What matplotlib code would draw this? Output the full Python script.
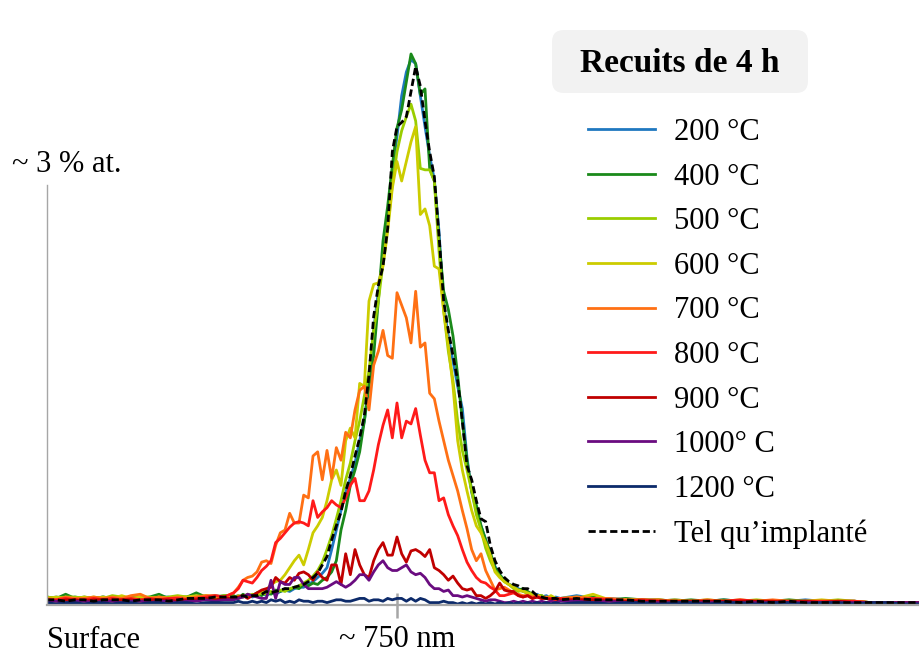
import numpy as np
import matplotlib
matplotlib.use("Agg")
import matplotlib.pyplot as plt
from matplotlib.patches import FancyBboxPatch

plt.rcParams['font.family'] = ['Liberation Serif', 'DejaVu Serif']

# depth sampling (nm)
depth = np.concatenate([np.arange(0, 381, 20), np.arange(400, 1101, 10), np.arange(1135, 1871, 35)])

# concentration (% at.)
c200 = [0.04,0.05,0.04,0.05,0.04,0.04,0.05,0.04,0.05,0.04,0.05,0.04,0.05,0.05,0.04,0.05,0.06,0.05,0.06,0.05,
        0.05,0.06,0.05,0.07,0.05,0.06,0.08,0.06,0.08,0.07,0.09,0.10,0.09,0.11,0.12,0.12,0.14,0.16,0.19,0.22,
        0.26,0.39,0.53,0.67,0.80,0.90,1.01,1.17,1.31,1.60,
        1.96,2.24,2.49,2.78,3.10,3.35,3.64,3.81,3.90,3.87,
        3.64,3.42,3.21,3.04,2.67,2.14,1.92,1.74,1.56,1.40,
        1.05,0.80,0.67,0.56,0.46,0.35,0.27,0.21,0.17,0.14,
        0.13,0.11,0.09,0.08,0.06,0.07,0.05,0.06,0.04,0.05,0.04,
        0.06,0.04,0.04,0.03,0.03,0.02,0.03,0.02,0.02,0.03,0.02,0.02,0.02,0.02,0.03,0.02,0.02,0.02,0.01,0.01,0.01,0.01]
c400 = [0.05,0.04,0.07,0.04,0.05,0.04,0.05,0.04,0.04,0.05,0.04,0.05,0.07,0.04,0.05,0.05,0.08,0.05,0.05,0.06,
        0.06,0.04,0.07,0.05,0.06,0.08,0.06,0.09,0.07,0.10,0.09,0.11,0.10,0.12,0.11,0.14,0.13,0.15,0.14,0.17,
        0.19,0.23,0.31,0.53,0.67,0.85,0.96,1.09,1.31,1.56,
        1.78,2.17,2.60,2.85,3.14,3.41,3.54,3.74,3.94,3.87,
        3.65,3.69,3.12,3.03,2.60,2.24,2.11,1.92,1.64,1.31,
        1.03,0.81,0.71,0.56,0.46,0.37,0.26,0.21,0.17,0.14,
        0.12,0.10,0.11,0.09,0.07,0.06,0.06,0.04,0.05,0.04,0.04,
        0.04,0.05,0.03,0.04,0.03,0.03,0.02,0.03,0.02,0.03,0.02,0.02,0.02,0.03,0.02,0.02,0.02,0.02,0.01,0.01,0.01,0.01]
c500 = [0.05,0.04,0.05,0.05,0.04,0.05,0.04,0.06,0.05,0.04,0.05,0.05,0.04,0.05,0.06,0.05,0.05,0.06,0.05,0.06,
        0.05,0.04,0.06,0.05,0.07,0.06,0.08,0.07,0.09,0.08,0.10,0.09,0.11,0.12,0.13,0.15,0.17,0.20,0.24,0.30,
        0.39,0.49,0.61,0.74,0.89,1.01,1.17,1.31,1.49,1.67,
        1.96,2.17,2.44,2.71,3.00,3.24,3.39,3.49,3.58,3.46,
        3.12,3.11,3.11,3.03,2.53,2.10,1.81,1.60,1.31,1.10,
        0.96,0.81,0.64,0.53,0.40,0.31,0.24,0.20,0.16,0.14,
        0.11,0.09,0.10,0.07,0.08,0.06,0.06,0.04,0.05,0.04,0.04,
        0.05,0.04,0.03,0.03,0.02,0.03,0.02,0.02,0.03,0.02,0.02,0.03,0.02,0.02,0.02,0.02,0.03,0.02,0.01,0.01,0.01,0.01]
c600 = [0.04,0.05,0.04,0.04,0.05,0.04,0.05,0.04,0.06,0.04,0.05,0.04,0.05,0.04,0.05,0.05,0.06,0.05,0.04,0.05,
        0.04,0.06,0.05,0.07,0.06,0.07,0.09,0.10,0.14,0.16,0.17,0.21,0.26,0.31,0.35,0.28,0.39,0.51,0.56,0.62,
        0.74,0.89,0.96,0.85,1.17,1.26,1.19,1.58,1.56,2.17,
        2.29,2.30,2.42,2.67,2.98,3.17,3.03,3.17,3.31,3.42,
        2.79,2.83,2.71,2.42,2.40,2.10,1.85,1.56,1.17,0.96,
        0.81,0.67,0.56,0.51,0.44,0.35,0.23,0.19,0.16,0.14,
        0.12,0.10,0.09,0.08,0.06,0.06,0.05,0.04,0.06,0.04,0.04,
        0.04,0.07,0.03,0.03,0.03,0.02,0.03,0.02,0.02,0.02,0.03,0.02,0.02,0.02,0.02,0.03,0.02,0.02,0.01,0.01,0.01,0.01]
c700 = [0.04,0.03,0.05,0.04,0.04,0.05,0.04,0.05,0.04,0.06,0.07,0.04,0.05,0.04,0.05,0.04,0.05,0.06,0.06,0.05,
        0.08,0.12,0.17,0.19,0.20,0.23,0.30,0.31,0.29,0.42,0.51,0.53,0.65,0.58,0.58,0.78,0.76,1.06,1.09,0.89,
        1.10,0.90,1.12,1.03,1.23,1.19,1.39,1.53,1.56,1.39,
        1.71,1.81,1.96,1.78,1.76,2.23,2.14,2.05,1.87,2.24,
        1.84,1.87,1.51,1.47,1.31,1.17,1.03,0.92,0.81,0.67,
        0.54,0.39,0.31,0.36,0.24,0.17,0.10,0.11,0.12,0.10,
        0.08,0.07,0.06,0.06,0.05,0.06,0.04,0.05,0.04,0.04,0.04,
        0.05,0.04,0.04,0.03,0.03,0.03,0.02,0.02,0.03,0.02,0.02,0.02,0.03,0.02,0.02,0.02,0.02,0.02,0.01,0.01,0.01,0.01]
c800 = [0.03,0.03,0.04,0.03,0.03,0.04,0.03,0.04,0.03,0.04,0.03,0.04,0.03,0.04,0.04,0.03,0.04,0.05,0.06,0.05,
        0.08,0.11,0.17,0.16,0.15,0.19,0.24,0.27,0.31,0.44,0.47,0.51,0.55,0.58,0.59,0.58,0.56,0.74,0.62,0.66,
        0.69,0.74,0.71,0.69,0.76,0.85,0.90,0.74,0.74,0.81,
        0.96,1.14,1.28,1.39,1.19,1.44,1.19,1.31,1.29,1.40,
        1.21,1.03,0.94,0.94,0.74,0.76,0.64,0.56,0.49,0.39,
        0.30,0.24,0.19,0.16,0.15,0.12,0.10,0.06,0.06,0.07,
        0.08,0.06,0.05,0.06,0.04,0.05,0.04,0.04,0.04,0.03,0.04,
        0.03,0.04,0.03,0.02,0.03,0.02,0.02,0.02,0.02,0.02,0.03,0.02,0.02,0.02,0.02,0.02,0.02,0.02,0.01,0.01,0.01,0.01]
c900 = [0.03,0.02,0.03,0.03,0.02,0.03,0.03,0.02,0.03,0.03,0.02,0.03,0.03,0.03,0.02,0.03,0.03,0.04,0.03,0.04,
        0.04,0.05,0.06,0.04,0.06,0.08,0.10,0.11,0.12,0.19,0.16,0.15,0.19,0.17,0.22,0.23,0.21,0.17,0.23,0.19,
        0.17,0.28,0.28,0.14,0.36,0.21,0.39,0.28,0.21,0.19,
        0.31,0.39,0.44,0.35,0.35,0.48,0.36,0.30,0.38,0.39,
        0.37,0.34,0.39,0.26,0.24,0.21,0.17,0.20,0.15,0.11,
        0.10,0.11,0.06,0.06,0.04,0.06,0.09,0.15,0.10,0.09,
        0.09,0.06,0.05,0.06,0.04,0.05,0.04,0.04,0.03,0.04,0.03,
        0.03,0.03,0.02,0.02,0.02,0.02,0.02,0.02,0.02,0.02,0.02,0.02,0.02,0.01,0.02,0.01,0.02,0.01,0.01,0.01,0.01,0.01]
c1000 = [0.02,0.02,0.01,0.02,0.02,0.01,0.02,0.02,0.01,0.02,0.02,0.01,0.02,0.02,0.01,0.02,0.02,0.03,0.02,0.03,
         0.03,0.04,0.05,0.07,0.06,0.05,0.04,0.04,0.17,0.04,0.16,0.14,0.14,0.19,0.19,0.14,0.11,0.11,0.11,0.11,
         0.12,0.14,0.16,0.14,0.12,0.14,0.17,0.21,0.21,0.17,
         0.23,0.28,0.31,0.26,0.24,0.24,0.26,0.28,0.23,0.21,
         0.22,0.19,0.14,0.11,0.11,0.09,0.10,0.06,0.06,0.05,
         0.06,0.05,0.04,0.03,0.02,0.03,0.03,0.02,0.01,0.01,
         0.02,0.01,0.02,0.01,0.02,0.01,0.02,0.01,0.02,0.01,0.02,
         0.02,0.01,0.02,0.01,0.01,0.01,0.01,0.01,0.01,0.01,0.01,0.01,0.01,0.01,0.01,0.01,0.01,0.01,0.01,0.01,0.01,0.01]
c1200 = [0.01,0.00,0.01,0.01,0.00,0.01,0.01,0.00,0.01,0.01,0.00,0.01,0.01,0.00,0.01,0.01,0.00,0.01,0.01,0.01,
         0.01,0.02,0.01,0.01,0.02,0.01,0.02,0.01,0.03,0.02,0.03,0.01,0.02,0.01,0.03,0.02,0.02,0.01,0.02,0.02,
         0.01,0.02,0.03,0.03,0.02,0.02,0.03,0.04,0.04,0.02,
         0.03,0.03,0.02,0.04,0.03,0.04,0.04,0.02,0.04,0.02,
         0.04,0.03,0.01,0.01,0.01,0.02,0.01,0.01,0.00,0.01,
         0.00,0.01,0.00,0.01,0.00,0.01,0.00,0.01,0.00,0.01,
         0.00,0.01,0.00,0.01,0.00,0.01,0.00,0.01,0.00,0.01,0.00,
         0.01,0.01,0.00,0.01,0.01,0.00,0.01,0.01,0.00,0.01,0.01,0.00,0.01,0.01,0.00,0.01,0.01,0.00,0.01,0.01,0.00,0.00]
c_ref = [0.03,0.03,0.02,0.03,0.03,0.02,0.03,0.03,0.03,0.02,0.03,0.03,0.03,0.02,0.03,0.04,0.04,0.04,0.05,0.05,
         0.05,0.05,0.06,0.05,0.06,0.06,0.07,0.09,0.08,0.09,0.10,0.11,0.11,0.12,0.13,0.14,0.16,0.19,0.22,0.28,
         0.34,0.46,0.56,0.66,0.81,0.92,1.06,1.19,1.35,1.64,
         2.06,2.28,2.42,2.69,3.24,3.42,3.45,3.49,3.67,3.85,
         3.71,3.46,3.24,3.06,2.64,2.17,1.96,1.78,1.60,1.31,
         0.99,0.89,0.74,0.61,0.59,0.42,0.31,0.24,0.19,0.16,
         0.14,0.13,0.11,0.11,0.09,0.06,0.05,0.04,0.04,0.04,0.03,
         0.04,0.03,0.03,0.03,0.02,0.02,0.02,0.02,0.02,0.02,0.01,0.02,0.01,0.02,0.01,0.01,0.01,0.01,0.01,0.01,0.01,0.01]

labels = ['200 °C', '400 °C', '500 °C', '600 °C', '700 °C', '800 °C', '900 °C', '1000° C', '1200 °C']
series = [c200, c400, c500, c600, c700, c800, c900, c1000, c1200]
colors = ['#1f78c0', '#1a8a1a', '#9acd00', '#cccc00', '#ff7014', '#ff1a1a', '#c00000', '#6a0c80', '#0c2a6a']

W, H = 919, 655
fig = plt.figure(figsize=(W / 100, H / 100), dpi=100)
ax = fig.add_axes([47 / W, (H - 605.4) / H, 872 / W, 565.4 / H])

handles = []
for vals, lab, col in zip(series, labels, colors):
    assert len(vals) == len(depth), (lab, len(vals))
    ln, = ax.plot(depth, vals, color=col, lw=2.0, label=lab)
    handles.append(ln)
ln, = ax.plot(depth, c_ref, color='black', lw=2.0, ls=(0, (2.6, 1.3)), label='Tel qu’implanté')
handles.append(ln)

ax.set_xlim(0, 872 * 750 / 350)
ax.set_ylim(-0.01, 4.04)

for s in ['top', 'right']:
    ax.spines[s].set_visible(False)
ax.spines['left'].set_bounds(0, 3)
ax.spines['left'].set_color('#a6a6a6')
ax.spines['left'].set_linewidth(1.0)
ax.spines['bottom'].set_color('#a6a6a6')
ax.spines['bottom'].set_linewidth(1.6)
ax.set_yticks([])
ax.set_xticks([750], ['~ 750 nm'])
ax.tick_params(axis='x', direction='inout', length=18, width=1.8, color='#a6a6a6',
               labelsize=22, pad=5)
ax.text(0, -0.265, 'Surface', ha='left', va='center', fontsize=22)
ax.text(43, 3.15, '~ 3 % at.', ha='center', va='center', fontsize=22)

# legend title box
box = FancyBboxPatch((5.52, (H - 93) / 100), 2.56, 0.63,
                     boxstyle='round,pad=0,rounding_size=0.12',
                     transform=fig.dpi_scale_trans, facecolor='#f2f2f2', edgecolor='none')
fig.patches.append(box)
fig.text(680 / W, 1 - 63 / H, 'Recuits de 4 h', ha='center', va='center',
         fontsize=24, fontweight='bold')

leg = ax.legend(handles=handles, loc='upper left', bbox_to_anchor=(588 / W, 1 - 118 / H),
                bbox_transform=fig.transFigure, frameon=False, fontsize=22,
                handlelength=2.2, handletextpad=0.6, labelspacing=0.51,
                borderpad=0, borderaxespad=0)

fig.savefig('out.png', dpi=100)
